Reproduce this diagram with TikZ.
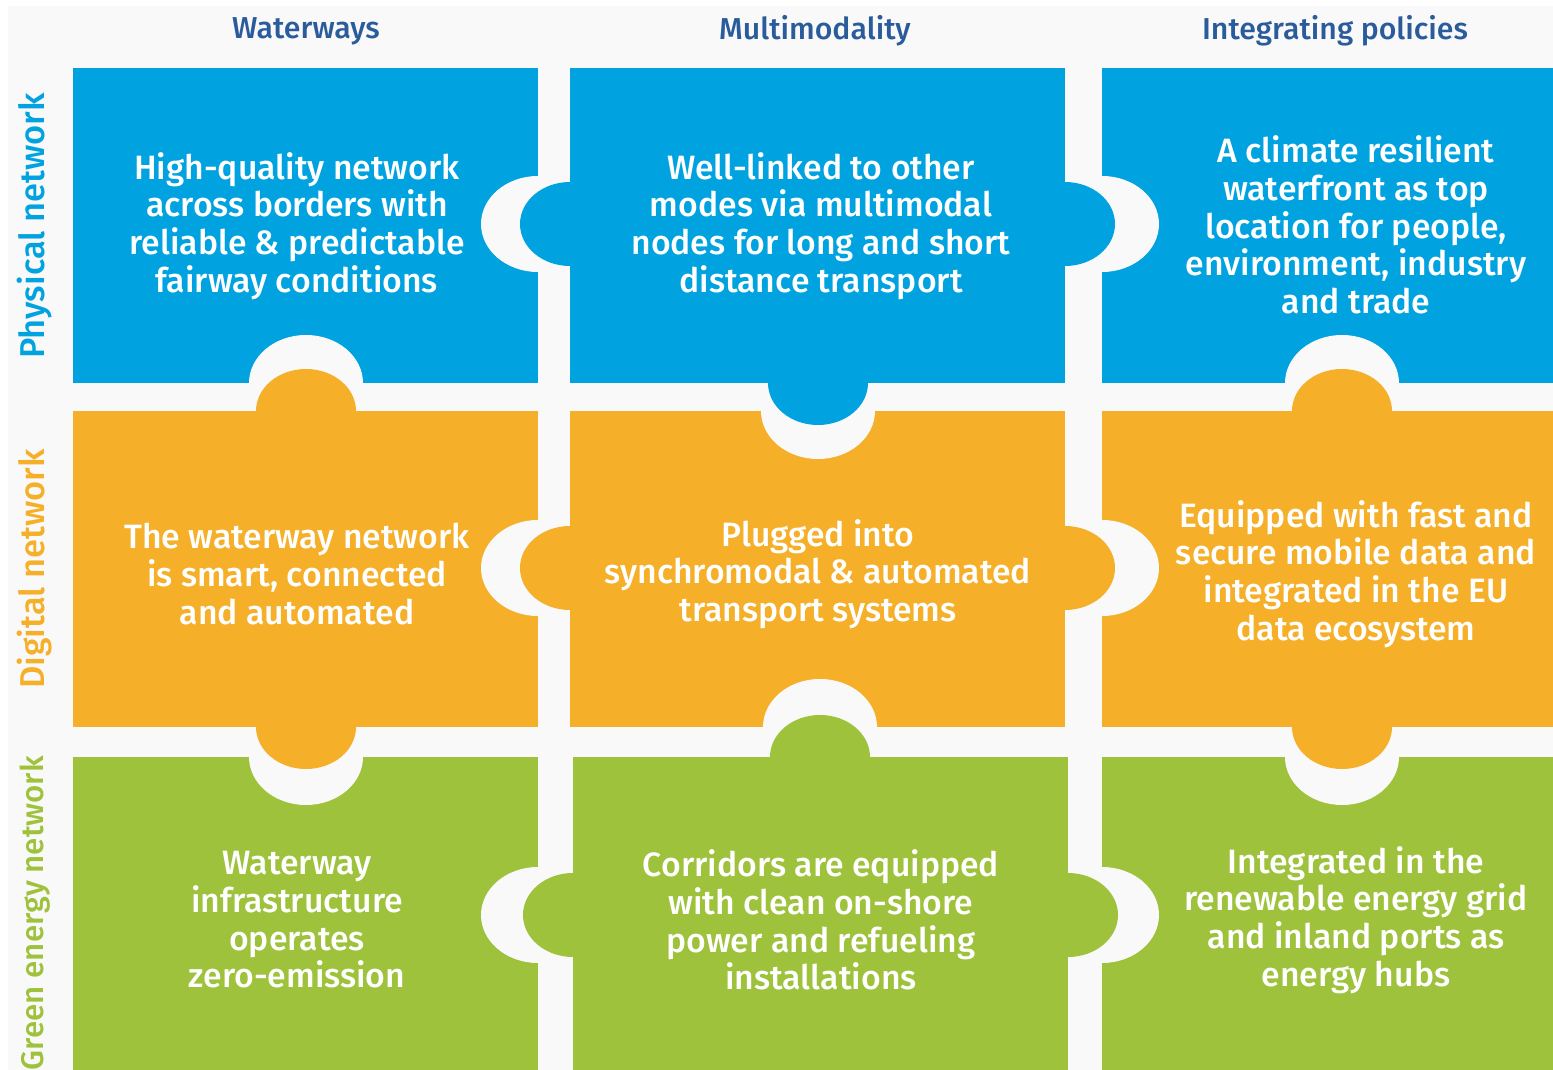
\documentclass[tikz,border=0pt]{standalone}
\usepackage{fontspec}
\setmainfont{Fira Sans}[UprightFont={* Medium}, BoldFont={* SemiBold}]
\definecolor{physblue}{HTML}{00A3E0}
\definecolor{digiorange}{HTML}{F5AF28}
\definecolor{greenlime}{HTML}{9EC23B}
\definecolor{panelgray}{HTML}{F9F9F9}
\definecolor{headblue}{HTML}{2A5C9C}
\begin{document}
\begin{tikzpicture}[x=0.01cm, y=-0.01cm,
  tiletext/.style={text=white, align=center, font=\fontsize{9.6}{10.7}\selectfont},
  colhead/.style={text=headblue, font=\fontsize{8.6}{10}\selectfont},
  rowhead/.style={rotate=90, font=\fontsize{9.8}{12}\selectfont}]
\useasboundingbox (0,0) rectangle (1553,1070);
\fill[white] (0,0) rectangle (1553,1070);
\fill[panelgray] (8,6) rectangle (1553,1070);
\fill[physblue] (73,68) rectangle (538,383);
\fill[physblue] (570,68) rectangle (1065,383);
\fill[physblue] (1102,68) rectangle (1553,383);
\fill[digiorange] (73,411) rectangle (538,727);
\fill[digiorange] (570,411) rectangle (1065,727);
\fill[digiorange] (1102,411) rectangle (1553,727);
\fill[greenlime] (73,757) rectangle (538,1070);
\fill[greenlime] (573,757) rectangle (1068,1070);
\fill[greenlime] (1102,757) rectangle (1553,1070);
\foreach \cx/\cy in {538/224, 1102/224, 306/383, 818/411, 1342/383,
                     538/568, 1102/568, 306/757, 820/727, 1342/757,
                     538/915, 1102/915}
  \fill[panelgray] (\cx,\cy) ellipse [x radius=57, y radius=48];
\foreach \cx/\cy/\col in {570/224/physblue, 1065/224/physblue, 306/411/digiorange,
                          818/383/physblue, 1342/411/digiorange,
                          570/568/digiorange, 1065/568/digiorange, 306/727/digiorange,
                          820/757/greenlime, 1342/727/digiorange,
                          573/915/greenlime, 1068/915/greenlime}
  \fill[\col] (\cx,\cy) ellipse [x radius=50, y radius=42];
\node[colhead] (waterways) at (306,31) {Waterways};
\node[colhead] (multimodality) at (815,31) {Multimodality};
\node[colhead] (policies) at (1335,31) {Integrating policies};
\node[rowhead, text=physblue] (physical) at (35,226) {Physical network};
\node[rowhead, text=digiorange] (digital) at (35,569) {Digital network};
\node[rowhead, text=greenlime, font=\fontsize{8.9}{11}\selectfont] (greenenergy) at (35,913) {Green energy network};
\node[tiletext] (highquality) at (297,226) {High-quality network\\across borders with\\reliable \& predictable\\fairway conditions};
\node[tiletext] (welllinked) at (821,226) {Well-linked to other\\modes via multimodal\\nodes for long and short\\distance transport};
\node[tiletext] (waterfront) at (1356,225) {A climate resilient\\waterfront as top\\location for people,\\environment, industry\\and trade};
\node[tiletext] (smart) at (297,574) {The waterway network\\is smart, connected\\and automated};
\node[tiletext] (plugged) at (818,574) {Plugged into\\synchromodal \& automated\\transport systems};
\node[tiletext] (mobiledata) at (1356,574) {Equipped with fast and\\secure mobile data and\\integrated in the EU\\data ecosystem};
\node[tiletext] (zeroemission) at (297,920) {Waterway\\infrastructure\\operates\\zero-emission};
\node[tiletext] (corridors) at (821,920) {Corridors are equipped\\with clean on-shore\\power and refueling\\installations};
\node[tiletext] (renewable) at (1356,920) {Integrated in the\\renewable energy grid\\and inland ports as\\energy hubs};
\end{tikzpicture}
\end{document}
